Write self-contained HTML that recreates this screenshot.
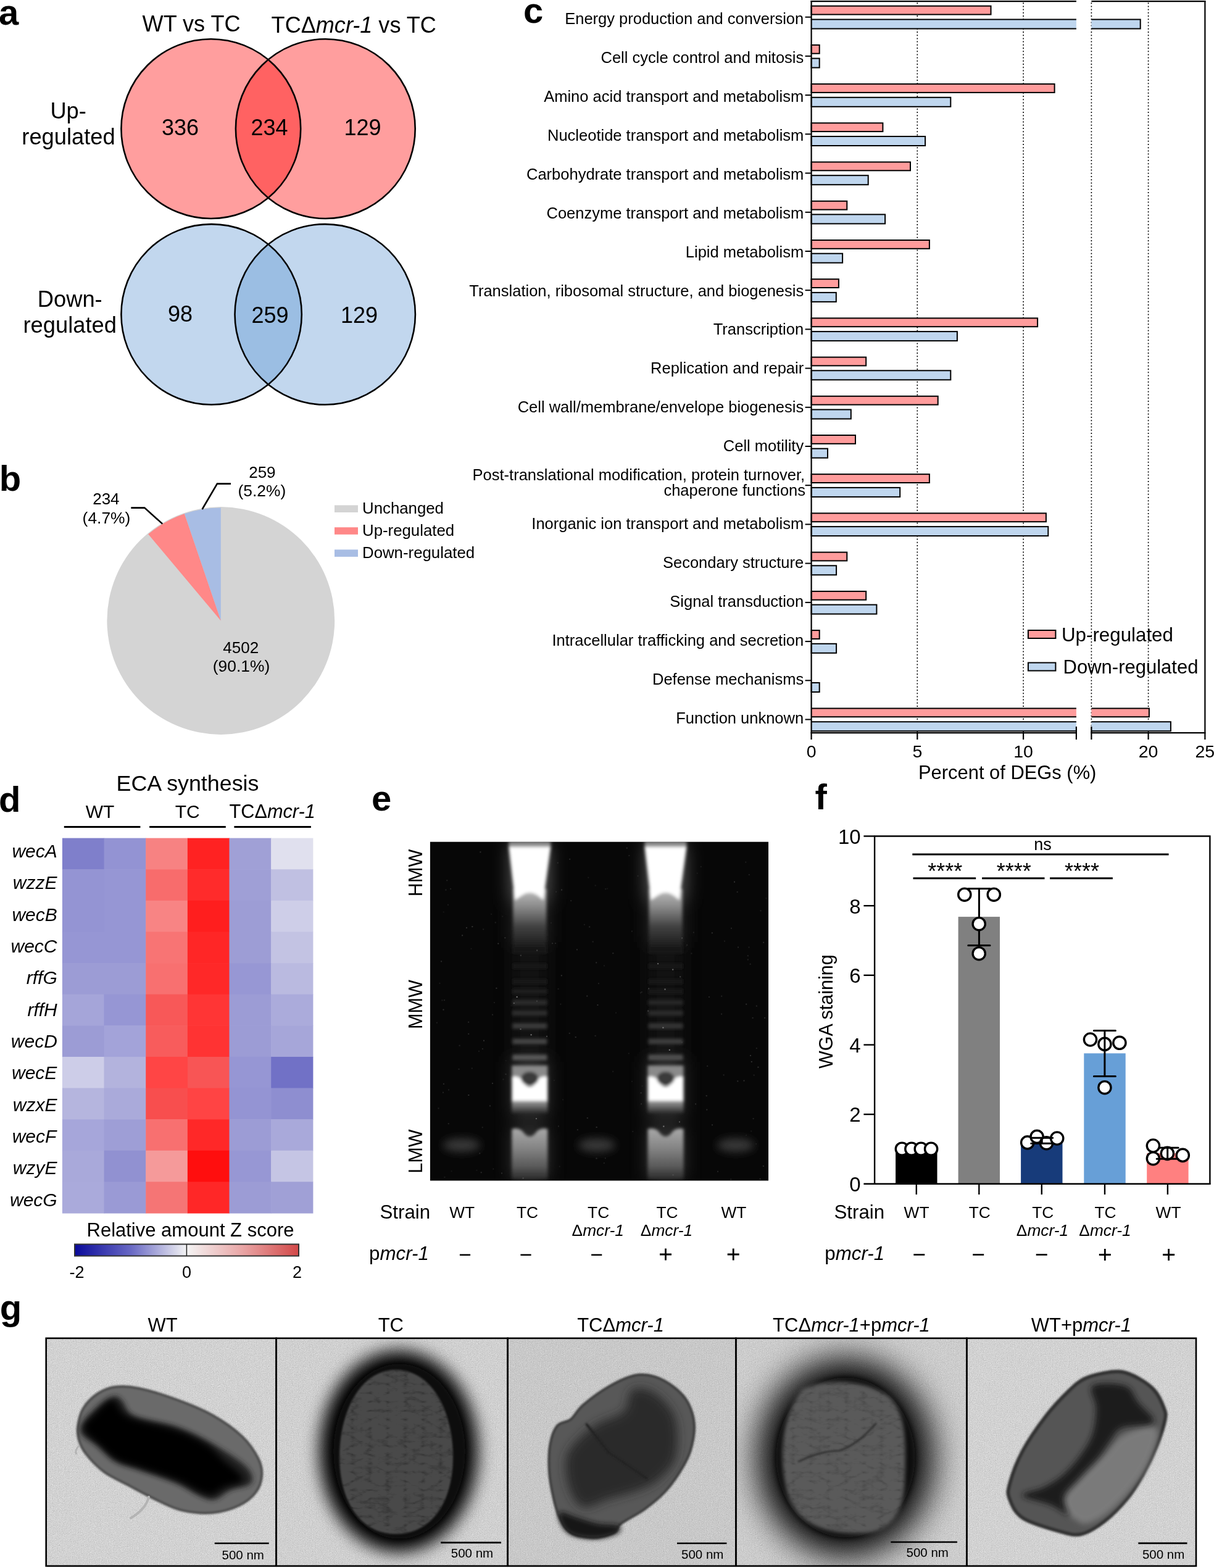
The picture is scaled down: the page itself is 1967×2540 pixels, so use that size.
<!DOCTYPE html>
<html><head><meta charset="utf-8"><title>Figure</title>
<style>html,body{margin:0;padding:0;background:#fff;width:1967px;height:2540px;overflow:hidden}
svg{display:block}
text{font-family:"Liberation Sans",Arial,Helvetica,sans-serif;fill:#000}
</style></head><body>
<svg width="1967" height="2540" viewBox="0 0 1967 2540">
<rect width="1967" height="2540" fill="#fff"/>
<text x="-2.0" y="40.0" font-size="58.00"><tspan font-weight="bold">a</tspan></text>
<text x="230.6" y="51.0" font-size="36.10">WT vs TC</text>
<text x="439.6" y="53.3" font-size="36.10"><tspan>TCΔ</tspan><tspan font-style="italic">mcr-1</tspan><tspan> vs TC</tspan></text>
<circle cx="341.8" cy="208.6" r="145.4" fill="rgba(255,0,0,0.38)"/>
<circle cx="527.3" cy="208.6" r="145.4" fill="rgba(255,0,0,0.38)"/>
<circle cx="341.8" cy="208.6" r="145.4" fill="none" stroke="#000" stroke-width="2.6"/>
<circle cx="527.3" cy="208.6" r="145.4" fill="none" stroke="#000" stroke-width="2.6"/>
<circle cx="342.6" cy="509.3" r="146.2" fill="rgba(90,147,209,0.37)"/>
<circle cx="526.7" cy="509.3" r="146.2" fill="rgba(90,147,209,0.37)"/>
<circle cx="342.6" cy="509.3" r="146.2" fill="none" stroke="#000" stroke-width="2.6"/>
<circle cx="526.7" cy="509.3" r="146.2" fill="none" stroke="#000" stroke-width="2.6"/>
<text x="262.0" y="218.8" font-size="36.00">336</text>
<text x="406.5" y="218.8" font-size="36.00">234</text>
<text x="557.5" y="218.8" font-size="36.00">129</text>
<text x="272.0" y="521.0" font-size="36.00">98</text>
<text x="407.4" y="523.2" font-size="36.00">259</text>
<text x="551.9" y="523.2" font-size="36.00">129</text>
<text x="81.4" y="191.6" font-size="36.30">Up-</text>
<text x="35.3" y="234.0" font-size="36.30">regulated</text>
<text x="60.8" y="496.8" font-size="36.30">Down-</text>
<text x="37.5" y="539.3" font-size="36.30">regulated</text>
<text x="-1.2" y="795.0" font-size="58.00"><tspan font-weight="bold">b</tspan></text>
<circle cx="357.8" cy="1005.5" r="184.4" fill="#D4D4D4"/>
<path d="M357.80 1005.50 L357.80 822.50 A183.00 183.00 0 0 0 298.83 832.26 Z" fill="#A8BDE4"/>
<path d="M357.80 1005.50 L298.83 832.26 A183.00 183.00 0 0 0 240.17 865.31 Z" fill="#FF8888"/>
<polyline points="212.3,822.6 234.2,822.6 263.2,848.6" fill="none" stroke="#000" stroke-width="2.6"/>
<polyline points="374,783.6 351.9,783.6 327.6,825" fill="none" stroke="#000" stroke-width="2.6"/>
<text x="150.2" y="816.9" font-size="26.00">234</text>
<text x="133.6" y="847.7" font-size="26.40">(4.7%)</text>
<text x="403.2" y="774.0" font-size="26.00">259</text>
<text x="385.5" y="804.0" font-size="26.40">(5.2%)</text>
<text x="361.3" y="1057.5" font-size="26.00">4502</text>
<text x="344.8" y="1088.0" font-size="26.40">(90.1%)</text>
<rect x="542" y="818.4" width="38" height="11.6" fill="#D4D4D4"/>
<rect x="542" y="854.2" width="38" height="11.6" fill="#FF8888"/>
<rect x="542" y="890.3" width="38" height="11.6" fill="#A8BDE4"/>
<text x="587.0" y="832.0" font-size="25.80">Unchanged</text>
<text x="587.0" y="867.8" font-size="25.80">Up-regulated</text>
<text x="587.0" y="903.6" font-size="25.80">Down-regulated</text>
<text x="848.0" y="37.0" font-size="58.00"><tspan font-weight="bold">c</tspan></text>
<line x1="1486.3" y1="4.2" x2="1486.3" y2="1186.2" stroke="#000" stroke-width="1.6" stroke-dasharray="2 3.2"/>
<line x1="1658.1" y1="4.2" x2="1658.1" y2="1186.2" stroke="#000" stroke-width="1.6" stroke-dasharray="2 3.2"/>
<line x1="1768.4" y1="4.2" x2="1768.4" y2="1186.2" stroke="#000" stroke-width="1.6" stroke-dasharray="2 3.2"/>
<line x1="1860.6" y1="4.2" x2="1860.6" y2="1186.2" stroke="#000" stroke-width="1.6" stroke-dasharray="2 3.2"/>
<rect x="1314.6" y="9.7" width="290.9" height="13.8" fill="#FF9C9C" stroke="#000" stroke-width="2"/>
<rect x="1314.6" y="31.4" width="429.3" height="15.0" fill="#BFD6EE"/><rect x="1768.4" y="31.4" width="79.3" height="15.0" fill="#BFD6EE"/><path d="M1314.6 31.4 H1743.9 M1314.6 46.4 H1743.9 M1768.4 31.4 H1847.7 V46.4 H1768.4" fill="none" stroke="#000" stroke-width="2"/>
<line x1="1304.6" y1="27.7" x2="1314.6" y2="27.7" stroke="#000" stroke-width="2"/>
<text x="915.2" y="38.9" font-size="25.50">Energy production and conversion</text>
<rect x="1314.6" y="72.9" width="13.1" height="13.8" fill="#FF9C9C" stroke="#000" stroke-width="2"/>
<rect x="1314.6" y="94.6" width="13.1" height="15.0" fill="#BFD6EE" stroke="#000" stroke-width="2"/>
<line x1="1304.6" y1="90.9" x2="1314.6" y2="90.9" stroke="#000" stroke-width="2"/>
<text x="973.5" y="101.8" font-size="25.50">Cell cycle control and mitosis</text>
<rect x="1314.6" y="136.1" width="394.0" height="13.8" fill="#FF9C9C" stroke="#000" stroke-width="2"/>
<rect x="1314.6" y="157.8" width="225.7" height="15.0" fill="#BFD6EE" stroke="#000" stroke-width="2"/>
<line x1="1304.6" y1="154.1" x2="1314.6" y2="154.1" stroke="#000" stroke-width="2"/>
<text x="881.2" y="164.8" font-size="25.50">Amino acid transport and metabolism</text>
<rect x="1314.6" y="199.3" width="115.8" height="13.8" fill="#FF9C9C" stroke="#000" stroke-width="2"/>
<rect x="1314.6" y="221.0" width="184.5" height="15.0" fill="#BFD6EE" stroke="#000" stroke-width="2"/>
<line x1="1304.6" y1="217.3" x2="1314.6" y2="217.3" stroke="#000" stroke-width="2"/>
<text x="887.0" y="227.7" font-size="25.50">Nucleotide transport and metabolism</text>
<rect x="1314.6" y="262.5" width="160.4" height="13.8" fill="#FF9C9C" stroke="#000" stroke-width="2"/>
<rect x="1314.6" y="284.2" width="92.1" height="15.0" fill="#BFD6EE" stroke="#000" stroke-width="2"/>
<line x1="1304.6" y1="280.5" x2="1314.6" y2="280.5" stroke="#000" stroke-width="2"/>
<text x="853.0" y="290.7" font-size="25.50">Carbohydrate transport and metabolism</text>
<rect x="1314.6" y="325.8" width="57.7" height="13.8" fill="#FF9C9C" stroke="#000" stroke-width="2"/>
<rect x="1314.6" y="347.4" width="119.5" height="15.0" fill="#BFD6EE" stroke="#000" stroke-width="2"/>
<line x1="1304.6" y1="343.8" x2="1314.6" y2="343.8" stroke="#000" stroke-width="2"/>
<text x="885.5" y="353.6" font-size="25.50">Coenzyme transport and metabolism</text>
<rect x="1314.6" y="389.0" width="191.3" height="13.8" fill="#FF9C9C" stroke="#000" stroke-width="2"/>
<rect x="1314.6" y="410.7" width="50.5" height="15.0" fill="#BFD6EE" stroke="#000" stroke-width="2"/>
<line x1="1304.6" y1="407.0" x2="1314.6" y2="407.0" stroke="#000" stroke-width="2"/>
<text x="1110.8" y="416.5" font-size="25.50">Lipid metabolism</text>
<rect x="1314.6" y="452.2" width="44.3" height="13.8" fill="#FF9C9C" stroke="#000" stroke-width="2"/>
<rect x="1314.6" y="473.9" width="40.2" height="15.0" fill="#BFD6EE" stroke="#000" stroke-width="2"/>
<line x1="1304.6" y1="470.2" x2="1314.6" y2="470.2" stroke="#000" stroke-width="2"/>
<text x="760.3" y="479.5" font-size="25.50">Translation, ribosomal structure, and biogenesis</text>
<rect x="1314.6" y="515.4" width="366.5" height="13.8" fill="#FF9C9C" stroke="#000" stroke-width="2"/>
<rect x="1314.6" y="537.1" width="236.3" height="15.0" fill="#BFD6EE" stroke="#000" stroke-width="2"/>
<line x1="1304.6" y1="533.4" x2="1314.6" y2="533.4" stroke="#000" stroke-width="2"/>
<text x="1155.7" y="542.4" font-size="25.50">Transcription</text>
<rect x="1314.6" y="578.6" width="88.6" height="13.8" fill="#FF9C9C" stroke="#000" stroke-width="2"/>
<rect x="1314.6" y="600.3" width="225.7" height="15.0" fill="#BFD6EE" stroke="#000" stroke-width="2"/>
<line x1="1304.6" y1="596.6" x2="1314.6" y2="596.6" stroke="#000" stroke-width="2"/>
<text x="1054.1" y="605.4" font-size="25.50">Replication and repair</text>
<rect x="1314.6" y="641.8" width="205.1" height="13.8" fill="#FF9C9C" stroke="#000" stroke-width="2"/>
<rect x="1314.6" y="663.5" width="64.2" height="15.0" fill="#BFD6EE" stroke="#000" stroke-width="2"/>
<line x1="1304.6" y1="659.8" x2="1314.6" y2="659.8" stroke="#000" stroke-width="2"/>
<text x="838.7" y="668.3" font-size="25.50">Cell wall/membrane/envelope biogenesis</text>
<rect x="1314.6" y="705.0" width="71.4" height="13.8" fill="#FF9C9C" stroke="#000" stroke-width="2"/>
<rect x="1314.6" y="726.7" width="26.4" height="15.0" fill="#BFD6EE" stroke="#000" stroke-width="2"/>
<line x1="1304.6" y1="723.0" x2="1314.6" y2="723.0" stroke="#000" stroke-width="2"/>
<text x="1171.8" y="731.2" font-size="25.50">Cell motility</text>
<rect x="1314.6" y="768.2" width="191.3" height="13.8" fill="#FF9C9C" stroke="#000" stroke-width="2"/>
<rect x="1314.6" y="789.9" width="143.6" height="15.0" fill="#BFD6EE" stroke="#000" stroke-width="2"/>
<line x1="1304.6" y1="786.2" x2="1314.6" y2="786.2" stroke="#000" stroke-width="2"/>
<text x="765.6" y="777.7" font-size="25.50">Post-translational modification, protein turnover,</text>
<text x="1075.4" y="803.4" font-size="25.50">chaperone functions</text>
<rect x="1314.6" y="831.4" width="380.3" height="13.8" fill="#FF9C9C" stroke="#000" stroke-width="2"/>
<rect x="1314.6" y="853.1" width="383.7" height="15.0" fill="#BFD6EE" stroke="#000" stroke-width="2"/>
<line x1="1304.6" y1="849.4" x2="1314.6" y2="849.4" stroke="#000" stroke-width="2"/>
<text x="861.3" y="857.1" font-size="25.50">Inorganic ion transport and metabolism</text>
<rect x="1314.6" y="894.6" width="57.7" height="13.8" fill="#FF9C9C" stroke="#000" stroke-width="2"/>
<rect x="1314.6" y="916.3" width="40.5" height="15.0" fill="#BFD6EE" stroke="#000" stroke-width="2"/>
<line x1="1304.6" y1="912.6" x2="1314.6" y2="912.6" stroke="#000" stroke-width="2"/>
<text x="1074.0" y="920.1" font-size="25.50">Secondary structure</text>
<rect x="1314.6" y="957.9" width="88.6" height="13.8" fill="#FF9C9C" stroke="#000" stroke-width="2"/>
<rect x="1314.6" y="979.6" width="105.8" height="15.0" fill="#BFD6EE" stroke="#000" stroke-width="2"/>
<line x1="1304.6" y1="975.9" x2="1314.6" y2="975.9" stroke="#000" stroke-width="2"/>
<text x="1085.3" y="983.0" font-size="25.50">Signal transduction</text>
<rect x="1314.6" y="1021.1" width="13.1" height="13.8" fill="#FF9C9C" stroke="#000" stroke-width="2"/>
<rect x="1314.6" y="1042.8" width="40.5" height="15.0" fill="#BFD6EE" stroke="#000" stroke-width="2"/>
<line x1="1304.6" y1="1039.1" x2="1314.6" y2="1039.1" stroke="#000" stroke-width="2"/>
<text x="894.5" y="1045.9" font-size="25.50">Intracellular trafficking and secretion</text>

<rect x="1314.6" y="1106.0" width="13.1" height="15.0" fill="#BFD6EE" stroke="#000" stroke-width="2"/>
<line x1="1304.6" y1="1102.3" x2="1314.6" y2="1102.3" stroke="#000" stroke-width="2"/>
<text x="1057.0" y="1108.9" font-size="25.50">Defense mechanisms</text>
<rect x="1314.6" y="1147.5" width="429.3" height="13.8" fill="#FF9C9C"/><rect x="1768.4" y="1147.5" width="93.5" height="13.8" fill="#FF9C9C"/><path d="M1314.6 1147.5 H1743.9 M1314.6 1161.3 H1743.9 M1768.4 1147.5 H1861.9 V1161.3 H1768.4" fill="none" stroke="#000" stroke-width="2"/>
<rect x="1314.6" y="1169.2" width="429.3" height="15.0" fill="#BFD6EE"/><rect x="1768.4" y="1169.2" width="128.5" height="15.0" fill="#BFD6EE"/><path d="M1314.6 1169.2 H1743.9 M1314.6 1184.2 H1743.9 M1768.4 1169.2 H1896.9 V1184.2 H1768.4" fill="none" stroke="#000" stroke-width="2"/>
<line x1="1304.6" y1="1165.5" x2="1314.6" y2="1165.5" stroke="#000" stroke-width="2"/>
<text x="1095.2" y="1171.8" font-size="25.50">Function unknown</text>
<line x1="1314.6" y1="1.0" x2="1314.6" y2="1198" stroke="#000" stroke-width="2.2"/>
<line x1="1313.6" y1="2.2" x2="1743.9" y2="2.2" stroke="#000" stroke-width="2.2"/>
<line x1="1768.4" y1="2.2" x2="1953.4" y2="2.2" stroke="#000" stroke-width="2.2"/>
<line x1="1952.4" y1="1.2" x2="1952.4" y2="1198" stroke="#000" stroke-width="2.2"/>
<line x1="1313.6" y1="1187.2" x2="1744.9" y2="1187.2" stroke="#000" stroke-width="2.2"/>
<line x1="1767.4" y1="1187.2" x2="1953.4" y2="1187.2" stroke="#000" stroke-width="2.2"/>
<line x1="1486.3" y1="1187.2" x2="1486.3" y2="1198" stroke="#000" stroke-width="2.2"/>
<line x1="1658.1" y1="1187.2" x2="1658.1" y2="1198" stroke="#000" stroke-width="2.2"/>
<line x1="1860.6" y1="1187.2" x2="1860.6" y2="1198" stroke="#000" stroke-width="2.2"/>
<line x1="1743.9" y1="1177" x2="1743.9" y2="1198" stroke="#000" stroke-width="2.2"/>
<line x1="1768.4" y1="1177" x2="1768.4" y2="1198" stroke="#000" stroke-width="2.2"/>
<text x="1306.7" y="1226.5" font-size="28.50">0</text>
<text x="1478.4" y="1226.5" font-size="28.50">5</text>
<text x="1642.2" y="1226.5" font-size="28.50">10</text>
<text x="1844.7" y="1226.5" font-size="28.50">20</text>
<text x="1936.5" y="1226.5" font-size="28.50">25</text>
<text x="1488.0" y="1262.3" font-size="30.90">Percent of DEGs (%)</text>
<rect x="1665.9" y="1021" width="44.5" height="13" fill="#FF9C9C" stroke="#000" stroke-width="2"/>
<rect x="1665.9" y="1073.5" width="44.5" height="13" fill="#BFD6EE" stroke="#000" stroke-width="2"/>
<text x="1720.0" y="1038.7" font-size="31.30">Up-regulated</text>
<text x="1722.6" y="1091.0" font-size="31.00">Down-regulated</text>
<text x="-2.0" y="1315.3" font-size="58.00"><tspan font-weight="bold">d</tspan></text>
<text x="188.6" y="1280.9" font-size="35.80">ECA synthesis</text>
<text x="138.7" y="1324.8" font-size="30.00">WT</text>
<text x="283.7" y="1324.8" font-size="30.00">TC</text>
<text x="371.5" y="1324.8" font-size="30.70"><tspan>TCΔ</tspan><tspan font-style="italic">mcr-1</tspan></text>
<line x1="103.8" y1="1339.5" x2="227.4" y2="1339.5" stroke="#000" stroke-width="3"/>
<line x1="242.1" y1="1339.5" x2="365.8" y2="1339.5" stroke="#000" stroke-width="3"/>
<line x1="379.4" y1="1339.5" x2="503.9" y2="1339.5" stroke="#000" stroke-width="3"/>
<rect x="100.90" y="1357.60" width="68.25" height="51.22" fill="#7F7FCB"/>
<rect x="168.55" y="1357.60" width="68.25" height="51.22" fill="#9393D3"/>
<rect x="236.20" y="1357.60" width="68.25" height="51.22" fill="#F78282"/>
<rect x="303.85" y="1357.60" width="68.25" height="51.22" fill="#FF2222"/>
<rect x="371.50" y="1357.60" width="68.25" height="51.22" fill="#A0A0D6"/>
<rect x="439.15" y="1357.60" width="68.25" height="51.22" fill="#E0E0EE"/>
<text x="19.4" y="1388.8" font-size="30.00"><tspan font-style="italic">wecA</tspan></text>
<rect x="100.90" y="1408.22" width="68.25" height="51.22" fill="#9494D3"/>
<rect x="168.55" y="1408.22" width="68.25" height="51.22" fill="#9696D4"/>
<rect x="236.20" y="1408.22" width="68.25" height="51.22" fill="#F86C6C"/>
<rect x="303.85" y="1408.22" width="68.25" height="51.22" fill="#FF2B2B"/>
<rect x="371.50" y="1408.22" width="68.25" height="51.22" fill="#9F9FD6"/>
<rect x="439.15" y="1408.22" width="68.25" height="51.22" fill="#C0C0E2"/>
<text x="20.8" y="1440.2" font-size="30.00"><tspan font-style="italic">wzzE</tspan></text>
<rect x="100.90" y="1458.83" width="68.25" height="51.22" fill="#9494D3"/>
<rect x="168.55" y="1458.83" width="68.25" height="51.22" fill="#9696D4"/>
<rect x="236.20" y="1458.83" width="68.25" height="51.22" fill="#F88484"/>
<rect x="303.85" y="1458.83" width="68.25" height="51.22" fill="#FF1E1E"/>
<rect x="371.50" y="1458.83" width="68.25" height="51.22" fill="#9D9DD5"/>
<rect x="439.15" y="1458.83" width="68.25" height="51.22" fill="#CECEE8"/>
<text x="19.4" y="1491.5" font-size="30.00"><tspan font-style="italic">wecB</tspan></text>
<rect x="100.90" y="1509.45" width="68.25" height="51.22" fill="#9696D4"/>
<rect x="168.55" y="1509.45" width="68.25" height="51.22" fill="#9696D4"/>
<rect x="236.20" y="1509.45" width="68.25" height="51.22" fill="#F87474"/>
<rect x="303.85" y="1509.45" width="68.25" height="51.22" fill="#FF2626"/>
<rect x="371.50" y="1509.45" width="68.25" height="51.22" fill="#9D9DD5"/>
<rect x="439.15" y="1509.45" width="68.25" height="51.22" fill="#C3C3E3"/>
<text x="17.5" y="1542.9" font-size="30.00"><tspan font-style="italic">wecC</tspan></text>
<rect x="100.90" y="1560.07" width="68.25" height="51.22" fill="#9C9CD5"/>
<rect x="168.55" y="1560.07" width="68.25" height="51.22" fill="#9C9CD5"/>
<rect x="236.20" y="1560.07" width="68.25" height="51.22" fill="#F87070"/>
<rect x="303.85" y="1560.07" width="68.25" height="51.22" fill="#FF2828"/>
<rect x="371.50" y="1560.07" width="68.25" height="51.22" fill="#9797D4"/>
<rect x="439.15" y="1560.07" width="68.25" height="51.22" fill="#BABAE0"/>
<text x="42.8" y="1594.2" font-size="30.00"><tspan font-style="italic">rffG</tspan></text>
<rect x="100.90" y="1610.68" width="68.25" height="51.22" fill="#A5A5D9"/>
<rect x="168.55" y="1610.68" width="68.25" height="51.22" fill="#9696D4"/>
<rect x="236.20" y="1610.68" width="68.25" height="51.22" fill="#F85858"/>
<rect x="303.85" y="1610.68" width="68.25" height="51.22" fill="#FF3535"/>
<rect x="371.50" y="1610.68" width="68.25" height="51.22" fill="#9C9CD5"/>
<rect x="439.15" y="1610.68" width="68.25" height="51.22" fill="#ABABDB"/>
<text x="44.4" y="1645.6" font-size="30.00"><tspan font-style="italic">rffH</tspan></text>
<rect x="100.90" y="1661.30" width="68.25" height="51.22" fill="#9C9CD5"/>
<rect x="168.55" y="1661.30" width="68.25" height="51.22" fill="#A3A3D9"/>
<rect x="236.20" y="1661.30" width="68.25" height="51.22" fill="#F85C5C"/>
<rect x="303.85" y="1661.30" width="68.25" height="51.22" fill="#FF3333"/>
<rect x="371.50" y="1661.30" width="68.25" height="51.22" fill="#9C9CD5"/>
<rect x="439.15" y="1661.30" width="68.25" height="51.22" fill="#A6A6D9"/>
<text x="17.8" y="1697.0" font-size="30.00"><tspan font-style="italic">wecD</tspan></text>
<rect x="100.90" y="1711.92" width="68.25" height="51.22" fill="#CDCDE8"/>
<rect x="168.55" y="1711.92" width="68.25" height="51.22" fill="#B3B3DD"/>
<rect x="236.20" y="1711.92" width="68.25" height="51.22" fill="#FF4545"/>
<rect x="303.85" y="1711.92" width="68.25" height="51.22" fill="#F85555"/>
<rect x="371.50" y="1711.92" width="68.25" height="51.22" fill="#9696D4"/>
<rect x="439.15" y="1711.92" width="68.25" height="51.22" fill="#7171C6"/>
<text x="19.0" y="1748.3" font-size="30.00"><tspan font-style="italic">wecE</tspan></text>
<rect x="100.90" y="1762.53" width="68.25" height="51.22" fill="#B5B5DE"/>
<rect x="168.55" y="1762.53" width="68.25" height="51.22" fill="#AAAADA"/>
<rect x="236.20" y="1762.53" width="68.25" height="51.22" fill="#F84E4E"/>
<rect x="303.85" y="1762.53" width="68.25" height="51.22" fill="#FF4444"/>
<rect x="371.50" y="1762.53" width="68.25" height="51.22" fill="#9494D3"/>
<rect x="439.15" y="1762.53" width="68.25" height="51.22" fill="#8E8ED0"/>
<text x="20.8" y="1799.7" font-size="30.00"><tspan font-style="italic">wzxE</tspan></text>
<rect x="100.90" y="1813.15" width="68.25" height="51.22" fill="#A6A6DA"/>
<rect x="168.55" y="1813.15" width="68.25" height="51.22" fill="#9E9ED6"/>
<rect x="236.20" y="1813.15" width="68.25" height="51.22" fill="#F87070"/>
<rect x="303.85" y="1813.15" width="68.25" height="51.22" fill="#FF2828"/>
<rect x="371.50" y="1813.15" width="68.25" height="51.22" fill="#9C9CD5"/>
<rect x="439.15" y="1813.15" width="68.25" height="51.22" fill="#A9A9DA"/>
<text x="19.7" y="1851.0" font-size="30.00"><tspan font-style="italic">wecF</tspan></text>
<rect x="100.90" y="1863.77" width="68.25" height="51.22" fill="#A9A9DA"/>
<rect x="168.55" y="1863.77" width="68.25" height="51.22" fill="#9191D1"/>
<rect x="236.20" y="1863.77" width="68.25" height="51.22" fill="#F59A9A"/>
<rect x="303.85" y="1863.77" width="68.25" height="51.22" fill="#FF0E0E"/>
<rect x="371.50" y="1863.77" width="68.25" height="51.22" fill="#9797D4"/>
<rect x="439.15" y="1863.77" width="68.25" height="51.22" fill="#C5C5E4"/>
<text x="20.8" y="1902.4" font-size="30.00"><tspan font-style="italic">wzyE</tspan></text>
<rect x="100.90" y="1914.38" width="68.25" height="51.22" fill="#AAAADB"/>
<rect x="168.55" y="1914.38" width="68.25" height="51.22" fill="#9A9AD5"/>
<rect x="236.20" y="1914.38" width="68.25" height="51.22" fill="#F57575"/>
<rect x="303.85" y="1914.38" width="68.25" height="51.22" fill="#FF2727"/>
<rect x="371.50" y="1914.38" width="68.25" height="51.22" fill="#9C9CD5"/>
<rect x="439.15" y="1914.38" width="68.25" height="51.22" fill="#A0A0D6"/>
<text x="16.0" y="1953.8" font-size="30.00"><tspan font-style="italic">wecG</tspan></text>
<text x="140.5" y="2002.5" font-size="31.00">Relative amount Z score</text>
<defs><linearGradient id="cb" x1="0" x2="1" y1="0" y2="0"><stop offset="0" stop-color="#0A0A9A"/><stop offset="0.25" stop-color="#6868C4"/><stop offset="0.5" stop-color="#F4F4F4"/><stop offset="0.75" stop-color="#E9A5A5"/><stop offset="1" stop-color="#D24848"/></linearGradient></defs>
<rect x="121" y="2015.5" width="363" height="19" fill="url(#cb)" stroke="#333" stroke-width="2"/>
<line x1="302.4" y1="2015.5" x2="302.4" y2="2034.5" stroke="#222" stroke-width="1.5"/>
<text x="112.5" y="2069.5" font-size="27.00">-2</text>
<text x="294.9" y="2069.5" font-size="27.00">0</text>
<text x="473.9" y="2069.5" font-size="27.00">2</text>
<text x="602.0" y="1313.3" font-size="58.00"><tspan font-weight="bold">e</tspan></text>
<defs><clipPath id="gelclip"><rect x="696.7" y="1363.4" width="548.5" height="549.3"/></clipPath><filter id="gb2" x="-20%" y="-20%" width="140%" height="140%"><feGaussianBlur stdDeviation="2.5"/></filter><filter id="gb4" x="-30%" y="-30%" width="160%" height="160%"><feGaussianBlur stdDeviation="4"/></filter><filter id="gb8" x="-50%" y="-50%" width="200%" height="200%"><feGaussianBlur stdDeviation="8"/></filter><linearGradient id="smear" x1="0" x2="0" y1="0" y2="1"><stop offset="0" stop-color="#d0d0d0"/><stop offset="0.35" stop-color="#8a8a8a"/><stop offset="1" stop-color="#181818"/></linearGradient><linearGradient id="lmw" x1="0" x2="0" y1="0" y2="1"><stop offset="0" stop-color="#a8a8a8"/><stop offset="0.35" stop-color="#888"/><stop offset="0.75" stop-color="#5a5a5a"/><stop offset="1" stop-color="#2a2a2a"/></linearGradient><linearGradient id="bandfade" x1="0" x2="0" y1="0" y2="1"><stop offset="0" stop-color="#ffffff"/><stop offset="0.55" stop-color="#f0f0f0"/><stop offset="1" stop-color="#444"/></linearGradient></defs>
<defs><filter id="gelA" filterUnits="userSpaceOnUse" x="680" y="1340" width="590" height="600"><feGaussianBlur stdDeviation="2.4"/></filter><filter id="gelB" filterUnits="userSpaceOnUse" x="680" y="1340" width="590" height="600"><feGaussianBlur stdDeviation="7"/></filter><filter id="gelC" filterUnits="userSpaceOnUse" x="680" y="1340" width="590" height="600"><feGaussianBlur stdDeviation="14"/></filter></defs>
<defs><linearGradient id="tongue" x1="0" x2="0" y1="0" y2="1"><stop offset="0" stop-color="#c0c0c0"/><stop offset="0.3" stop-color="#8a8a8a"/><stop offset="0.65" stop-color="#404040"/><stop offset="1" stop-color="#1a1a1a"/></linearGradient><linearGradient id="fadeB" x1="0" x2="0" y1="0" y2="1"><stop offset="0" stop-color="#a0a0a0"/><stop offset="1" stop-color="#2a2a2a"/></linearGradient></defs>
<g clip-path="url(#gelclip)"><rect x="696.7" y="1363.4" width="548.5" height="549.3" fill="#070707"/><g filter="url(#gelC)" opacity="0.55"><rect x="826.3" y="1366" width="64" height="90" fill="#9a9a9a"/><rect x="830.3" y="1456" width="56" height="70" fill="#4a4a4a"/><rect x="829.3" y="1720" width="58" height="90" fill="#5a5a5a"/><rect x="829.3" y="1826" width="58" height="84" fill="#5a5a5a"/><rect x="830.3" y="1526" width="56" height="194" fill="#1c1c1c"/><rect x="1046.5" y="1366" width="64" height="90" fill="#9a9a9a"/><rect x="1050.5" y="1456" width="56" height="70" fill="#4a4a4a"/><rect x="1049.5" y="1720" width="58" height="90" fill="#5a5a5a"/><rect x="1049.5" y="1826" width="58" height="84" fill="#5a5a5a"/><rect x="1050.5" y="1526" width="56" height="194" fill="#1c1c1c"/></g><g filter="url(#gelB)"><ellipse cx="748.0" cy="1855" rx="30" ry="11" fill="#383838"/><ellipse cx="967.0" cy="1855" rx="30" ry="11" fill="#383838"/><ellipse cx="1192.0" cy="1855" rx="30" ry="11" fill="#383838"/></g><g filter="url(#gelA)"><rect x="824.3" y="1363" width="68" height="10" fill="#8c8c8c"/><path d="M831.3 1440 L885.3 1440 L885.3 1535 L831.3 1535 Z" fill="url(#tongue)"/><path d="M824.3 1372 L892.3 1372 L880.3 1458 L873.3 1452 Q858.3 1440 843.3 1452 L834.3 1458 Z" fill="#ffffff"/><rect x="830.3" y="1535.5" width="56" height="9" fill="rgb(20,20,20)"/><rect x="830.3" y="1560.5" width="56" height="9" fill="rgb(20,20,20)"/><rect x="830.3" y="1585.5" width="56" height="9" fill="rgb(22,22,22)"/><rect x="830.3" y="1601.5" width="56" height="9" fill="rgb(28,28,28)"/><rect x="830.3" y="1619.5" width="56" height="9" fill="rgb(42,42,42)"/><rect x="830.3" y="1636.5" width="56" height="9" fill="rgb(46,46,46)"/><rect x="830.3" y="1657.5" width="56" height="9" fill="rgb(58,58,58)"/><rect x="830.3" y="1682.5" width="56" height="9" fill="rgb(68,68,68)"/><rect x="830.3" y="1708.5" width="56" height="9" fill="rgb(88,88,88)"/><rect x="829.3" y="1726" width="58" height="24" fill="#8a8a8a"/><path d="M829.3 1745 Q837.3 1742 844.3 1748 Q858.3 1772 872.3 1748 Q879.3 1742 887.3 1745 L887.3 1784 L829.3 1784 Z" fill="#ffffff"/><ellipse cx="858.3" cy="1747" rx="14" ry="11" fill="#3a3a3a"/><rect x="829.3" y="1783" width="58" height="20" fill="url(#fadeB)"/><path d="M829.3 1829 Q838.3 1826 846.3 1832 Q858.3 1850 870.3 1832 Q878.3 1826 887.3 1829 L887.3 1910 L829.3 1910 Z" fill="url(#lmw)"/><rect x="1044.5" y="1363" width="68" height="10" fill="#8c8c8c"/><path d="M1051.5 1440 L1105.5 1440 L1105.5 1535 L1051.5 1535 Z" fill="url(#tongue)"/><path d="M1044.5 1372 L1112.5 1372 L1100.5 1458 L1093.5 1452 Q1078.5 1440 1063.5 1452 L1054.5 1458 Z" fill="#ffffff"/><rect x="1050.5" y="1535.5" width="56" height="9" fill="rgb(18,18,18)"/><rect x="1050.5" y="1560.5" width="56" height="9" fill="rgb(18,18,18)"/><rect x="1050.5" y="1585.5" width="56" height="9" fill="rgb(20,20,20)"/><rect x="1050.5" y="1601.5" width="56" height="9" fill="rgb(25,25,25)"/><rect x="1050.5" y="1619.5" width="56" height="9" fill="rgb(38,38,38)"/><rect x="1050.5" y="1636.5" width="56" height="9" fill="rgb(42,42,42)"/><rect x="1050.5" y="1657.5" width="56" height="9" fill="rgb(53,53,53)"/><rect x="1050.5" y="1682.5" width="56" height="9" fill="rgb(62,62,62)"/><rect x="1050.5" y="1708.5" width="56" height="9" fill="rgb(80,80,80)"/><rect x="1049.5" y="1726" width="58" height="24" fill="#8a8a8a"/><path d="M1049.5 1745 Q1057.5 1742 1064.5 1748 Q1078.5 1772 1092.5 1748 Q1099.5 1742 1107.5 1745 L1107.5 1784 L1049.5 1784 Z" fill="#ffffff"/><ellipse cx="1078.5" cy="1747" rx="14" ry="11" fill="#3a3a3a"/><rect x="1049.5" y="1783" width="58" height="20" fill="url(#fadeB)"/><path d="M1049.5 1829 Q1058.5 1826 1066.5 1832 Q1078.5 1850 1090.5 1832 Q1098.5 1826 1107.5 1829 L1107.5 1910 L1049.5 1910 Z" fill="url(#lmw)"/></g><g style="mix-blend-mode:lighten"><rect x="1037.6" y="1769.4" width="2" height="2" fill="rgb(47,47,47)"/><rect x="1074.3" y="1823.6" width="2" height="2" fill="rgb(127,127,127)"/><rect x="715.4" y="1619.4" width="2" height="2" fill="rgb(29,29,29)"/><rect x="1051.8" y="1855.9" width="2" height="2" fill="rgb(107,107,107)"/><rect x="954.2" y="1500.4" width="2" height="2" fill="rgb(39,39,39)"/><rect x="755.0" y="1501.9" width="2" height="2" fill="rgb(45,45,45)"/><rect x="817.3" y="1518.2" width="2" height="2" fill="rgb(46,46,46)"/><rect x="911.0" y="1780.4" width="2" height="2" fill="rgb(24,24,24)"/><rect x="775.0" y="1701.9" width="2" height="2" fill="rgb(26,26,26)"/><rect x="771.4" y="1894.7" width="2" height="2" fill="rgb(22,22,22)"/><rect x="813.3" y="1483.5" width="2" height="2" fill="rgb(27,27,27)"/><rect x="1173.0" y="1523.6" width="2" height="2" fill="rgb(28,28,28)"/><rect x="992.2" y="1734.7" width="2" height="2" fill="rgb(28,28,28)"/><rect x="798.3" y="1892.6" width="2" height="2" fill="rgb(28,28,28)"/><rect x="1224.1" y="1852.0" width="2" height="2" fill="rgb(31,31,31)"/><rect x="711.4" y="1591.8" width="2" height="2" fill="rgb(26,26,26)"/><rect x="842.8" y="1546.7" width="2" height="2" fill="rgb(60,60,60)"/><rect x="1023.0" y="1750.9" width="2" height="2" fill="rgb(24,24,24)"/><rect x="867.9" y="1811.1" width="2" height="2" fill="rgb(100,100,100)"/><rect x="799.9" y="1623.1" width="2" height="2" fill="rgb(27,27,27)"/><rect x="730.6" y="1896.2" width="2" height="2" fill="rgb(22,22,22)"/><rect x="1214.7" y="1560.7" width="2" height="2" fill="rgb(34,34,34)"/><rect x="709.5" y="1794.4" width="2" height="2" fill="rgb(33,33,33)"/><rect x="903.9" y="1823.4" width="2" height="2" fill="rgb(36,36,36)"/><rect x="725.0" y="1464.7" width="2" height="2" fill="rgb(28,28,28)"/><rect x="764.3" y="1500.1" width="2" height="2" fill="rgb(48,48,48)"/><rect x="1210.8" y="1553.5" width="2" height="2" fill="rgb(33,33,33)"/><rect x="1184.0" y="1502.7" width="2" height="2" fill="rgb(36,36,36)"/><rect x="758.3" y="1773.0" width="2" height="2" fill="rgb(47,47,47)"/><rect x="899.0" y="1527.1" width="2" height="2" fill="rgb(35,35,35)"/><rect x="1212.8" y="1415.9" width="2" height="2" fill="rgb(32,32,32)"/><rect x="977.9" y="1563.4" width="2" height="2" fill="rgb(26,26,26)"/><rect x="884.1" y="1868.5" width="2" height="2" fill="rgb(71,71,71)"/><rect x="869.2" y="1538.5" width="2" height="2" fill="rgb(70,70,70)"/><rect x="1039.7" y="1758.2" width="2" height="2" fill="rgb(31,31,31)"/><rect x="1240.4" y="1454.2" width="2" height="2" fill="rgb(23,23,23)"/><rect x="743.6" y="1692.7" width="2" height="2" fill="rgb(34,34,34)"/><rect x="717.0" y="1768.7" width="2" height="2" fill="rgb(33,33,33)"/><rect x="1148.0" y="1614.0" width="2" height="2" fill="rgb(35,35,35)"/><rect x="778.7" y="1898.3" width="2" height="2" fill="rgb(42,42,42)"/><rect x="717.5" y="1634.6" width="2" height="2" fill="rgb(48,48,48)"/><rect x="812.0" y="1899.5" width="2" height="2" fill="rgb(40,40,40)"/><rect x="1215.0" y="1708.9" width="2" height="2" fill="rgb(47,47,47)"/><rect x="924.2" y="1458.1" width="2" height="2" fill="rgb(33,33,33)"/><rect x="780.7" y="1825.3" width="2" height="2" fill="rgb(31,31,31)"/><rect x="776.3" y="1867.3" width="2" height="2" fill="rgb(41,41,41)"/><rect x="1162.0" y="1896.7" width="2" height="2" fill="rgb(36,36,36)"/><rect x="1220.6" y="1740.6" width="2" height="2" fill="rgb(32,32,32)"/><rect x="959.6" y="1524.5" width="2" height="2" fill="rgb(34,34,34)"/><rect x="1189.0" y="1427.6" width="2" height="2" fill="rgb(48,48,48)"/><rect x="1235.9" y="1887.9" width="2" height="2" fill="rgb(42,42,42)"/><rect x="1208.1" y="1837.9" width="2" height="2" fill="rgb(27,27,27)"/><rect x="748.1" y="1514.3" width="2" height="2" fill="rgb(47,47,47)"/><rect x="997.0" y="1639.6" width="2" height="2" fill="rgb(24,24,24)"/><rect x="1126.1" y="1787.4" width="2" height="2" fill="rgb(44,44,44)"/><rect x="1018.4" y="1385.0" width="2" height="2" fill="rgb(31,31,31)"/><rect x="896.9" y="1749.1" width="2" height="2" fill="rgb(30,30,30)"/><rect x="1152.8" y="1510.3" width="2" height="2" fill="rgb(44,44,44)"/><rect x="1088.1" y="1886.3" width="2" height="2" fill="rgb(82,82,82)"/><rect x="1014.7" y="1372.7" width="2" height="2" fill="rgb(39,39,39)"/><rect x="1119.4" y="1543.5" width="2" height="2" fill="rgb(30,30,30)"/><rect x="950.8" y="1810.1" width="2" height="2" fill="rgb(42,42,42)"/><rect x="1065.1" y="1560.1" width="2" height="2" fill="rgb(104,104,104)"/><rect x="1100.0" y="1816.4" width="2" height="2" fill="rgb(82,82,82)"/><rect x="1171.6" y="1740.4" width="2" height="2" fill="rgb(33,33,33)"/><rect x="1218.6" y="1647.9" width="2" height="2" fill="rgb(38,38,38)"/><rect x="1231.5" y="1474.3" width="2" height="2" fill="rgb(33,33,33)"/><rect x="1208.2" y="1625.7" width="2" height="2" fill="rgb(44,44,44)"/><rect x="742.5" y="1730.9" width="2" height="2" fill="rgb(35,35,35)"/><rect x="792.9" y="1790.4" width="2" height="2" fill="rgb(40,40,40)"/><rect x="979.9" y="1875.2" width="2" height="2" fill="rgb(31,31,31)"/><rect x="1038.1" y="1787.3" width="2" height="2" fill="rgb(42,42,42)"/><rect x="846.6" y="1907.5" width="2" height="2" fill="rgb(80,80,80)"/><rect x="1017.8" y="1705.5" width="2" height="2" fill="rgb(27,27,27)"/><rect x="818.5" y="1739.1" width="2" height="2" fill="rgb(42,42,42)"/><rect x="1089.5" y="1902.3" width="2" height="2" fill="rgb(81,81,81)"/><rect x="729.1" y="1438.9" width="2" height="2" fill="rgb(32,32,32)"/><rect x="1224.8" y="1628.6" width="2" height="2" fill="rgb(39,39,39)"/><rect x="719.0" y="1619.2" width="2" height="2" fill="rgb(34,34,34)"/><rect x="1059.1" y="1405.5" width="2" height="2" fill="rgb(90,90,90)"/><rect x="1089.2" y="1569.6" width="2" height="2" fill="rgb(111,111,111)"/><rect x="1216.2" y="1831.4" width="2" height="2" fill="rgb(25,25,25)"/><rect x="1073.4" y="1663.7" width="2" height="2" fill="rgb(130,130,130)"/><rect x="1032.6" y="1417.9" width="2" height="2" fill="rgb(39,39,39)"/><rect x="977.8" y="1883.1" width="2" height="2" fill="rgb(31,31,31)"/><rect x="1219.6" y="1811.1" width="2" height="2" fill="rgb(35,35,35)"/><rect x="921.7" y="1672.8" width="2" height="2" fill="rgb(39,39,39)"/><rect x="900.1" y="1443.6" width="2" height="2" fill="rgb(41,41,41)"/><rect x="907.3" y="1625.6" width="2" height="2" fill="rgb(28,28,28)"/><rect x="1224.8" y="1697.1" width="2" height="2" fill="rgb(33,33,33)"/><rect x="1145.2" y="1725.9" width="2" height="2" fill="rgb(34,34,34)"/><rect x="758.2" y="1673.8" width="2" height="2" fill="rgb(41,41,41)"/><rect x="992.3" y="1543.2" width="2" height="2" fill="rgb(40,40,40)"/><rect x="903.6" y="1600.9" width="2" height="2" fill="rgb(29,29,29)"/><rect x="967.4" y="1627.0" width="2" height="2" fill="rgb(44,44,44)"/><rect x="905.7" y="1888.6" width="2" height="2" fill="rgb(27,27,27)"/><rect x="1022.9" y="1507.6" width="2" height="2" fill="rgb(31,31,31)"/><rect x="968.9" y="1592.1" width="2" height="2" fill="rgb(32,32,32)"/><rect x="1212.5" y="1533.5" width="2" height="2" fill="rgb(31,31,31)"/><rect x="777.4" y="1379.3" width="2" height="2" fill="rgb(43,43,43)"/><rect x="1037.0" y="1607.3" width="2" height="2" fill="rgb(31,31,31)"/><rect x="721.4" y="1440.5" width="2" height="2" fill="rgb(34,34,34)"/><rect x="706.9" y="1655.7" width="2" height="2" fill="rgb(30,30,30)"/><rect x="831.8" y="1624.1" width="2" height="2" fill="rgb(91,91,91)"/><rect x="965.6" y="1824.9" width="2" height="2" fill="rgb(45,45,45)"/><rect x="1236.1" y="1525.7" width="2" height="2" fill="rgb(41,41,41)"/><rect x="1238.1" y="1647.9" width="2" height="2" fill="rgb(41,41,41)"/><rect x="1177.5" y="1852.7" width="2" height="2" fill="rgb(22,22,22)"/><rect x="1112.2" y="1529.8" width="2" height="2" fill="rgb(39,39,39)"/><rect x="1083.8" y="1699.8" width="2" height="2" fill="rgb(127,127,127)"/><rect x="714.1" y="1556.4" width="2" height="2" fill="rgb(43,43,43)"/><rect x="1103.9" y="1687.4" width="2" height="2" fill="rgb(60,60,60)"/><rect x="836.6" y="1613.9" width="2" height="2" fill="rgb(129,129,129)"/><rect x="803.4" y="1599.8" width="2" height="2" fill="rgb(47,47,47)"/><rect x="931.7" y="1679.1" width="2" height="2" fill="rgb(44,44,44)"/><rect x="1216.8" y="1718.9" width="2" height="2" fill="rgb(48,48,48)"/><rect x="908.8" y="1579.3" width="2" height="2" fill="rgb(45,45,45)"/><rect x="806.3" y="1527.5" width="2" height="2" fill="rgb(48,48,48)"/><rect x="1111.0" y="1531.4" width="2" height="2" fill="rgb(22,22,22)"/><rect x="1076.5" y="1601.6" width="2" height="2" fill="rgb(120,120,120)"/><rect x="1193.7" y="1443.9" width="2" height="2" fill="rgb(37,37,37)"/><rect x="1076.9" y="1849.2" width="2" height="2" fill="rgb(128,128,128)"/><rect x="783.0" y="1684.7" width="2" height="2" fill="rgb(47,47,47)"/><rect x="726.0" y="1764.4" width="2" height="2" fill="rgb(30,30,30)"/><rect x="1144.3" y="1796.6" width="2" height="2" fill="rgb(43,43,43)"/><rect x="1210.8" y="1547.3" width="2" height="2" fill="rgb(35,35,35)"/><rect x="1230.6" y="1908.8" width="2" height="2" fill="rgb(44,44,44)"/><rect x="963.7" y="1433.4" width="2" height="2" fill="rgb(25,25,25)"/><rect x="818.6" y="1717.2" width="2" height="2" fill="rgb(25,25,25)"/><rect x="1086.2" y="1439.5" width="2" height="2" fill="rgb(116,116,116)"/><rect x="780.9" y="1698.1" width="2" height="2" fill="rgb(35,35,35)"/><rect x="1134.8" y="1402.9" width="2" height="2" fill="rgb(28,28,28)"/><rect x="723.3" y="1425.2" width="2" height="2" fill="rgb(34,34,34)"/><rect x="1104.1" y="1518.5" width="2" height="2" fill="rgb(75,75,75)"/><rect x="1102.4" y="1843.7" width="2" height="2" fill="rgb(61,61,61)"/><rect x="933.9" y="1537.3" width="2" height="2" fill="rgb(41,41,41)"/><rect x="965.2" y="1558.4" width="2" height="2" fill="rgb(42,42,42)"/><rect x="902.7" y="1396.7" width="2" height="2" fill="rgb(44,44,44)"/><rect x="859.6" y="1675.3" width="2" height="2" fill="rgb(124,124,124)"/><rect x="857.2" y="1878.2" width="2" height="2" fill="rgb(88,88,88)"/><rect x="842.5" y="1666.1" width="2" height="2" fill="rgb(96,96,96)"/><rect x="980.2" y="1439.1" width="2" height="2" fill="rgb(29,29,29)"/><rect x="1168.2" y="1612.7" width="2" height="2" fill="rgb(34,34,34)"/><rect x="797.0" y="1753.9" width="2" height="2" fill="rgb(42,42,42)"/><rect x="885.0" y="1677.8" width="2" height="2" fill="rgb(71,71,71)"/><rect x="1168.1" y="1641.6" width="2" height="2" fill="rgb(36,36,36)"/><rect x="829.1" y="1842.8" width="2" height="2" fill="rgb(101,101,101)"/><rect x="758.1" y="1654.7" width="2" height="2" fill="rgb(39,39,39)"/><rect x="1093.0" y="1395.6" width="2" height="2" fill="rgb(114,114,114)"/><rect x="1069.2" y="1487.6" width="2" height="2" fill="rgb(70,70,70)"/><rect x="1227.4" y="1727.7" width="2" height="2" fill="rgb(48,48,48)"/><rect x="814.4" y="1747.5" width="2" height="2" fill="rgb(34,34,34)"/><rect x="891.9" y="1494.1" width="2" height="2" fill="rgb(32,32,32)"/><rect x="1204.5" y="1749.6" width="2" height="2" fill="rgb(47,47,47)"/><rect x="909.0" y="1440.5" width="2" height="2" fill="rgb(48,48,48)"/><rect x="894.1" y="1527.2" width="2" height="2" fill="rgb(42,42,42)"/><rect x="934.8" y="1829.1" width="2" height="2" fill="rgb(38,38,38)"/><rect x="719.4" y="1905.9" width="2" height="2" fill="rgb(28,28,28)"/><rect x="1101.2" y="1581.3" width="2" height="2" fill="rgb(64,64,64)"/><rect x="717.7" y="1476.4" width="2" height="2" fill="rgb(23,23,23)"/><rect x="965.5" y="1875.5" width="2" height="2" fill="rgb(43,43,43)"/><rect x="1112.2" y="1366.6" width="2" height="2" fill="rgb(37,37,37)"/><rect x="862.7" y="1874.2" width="2" height="2" fill="rgb(101,101,101)"/><rect x="952.3" y="1420.6" width="2" height="2" fill="rgb(26,26,26)"/><rect x="1054.1" y="1405.1" width="2" height="2" fill="rgb(120,120,120)"/><rect x="782.2" y="1504.4" width="2" height="2" fill="rgb(30,30,30)"/><rect x="1143.7" y="1774.1" width="2" height="2" fill="rgb(43,43,43)"/><rect x="827.3" y="1628.3" width="2" height="2" fill="rgb(23,23,23)"/><rect x="886.5" y="1775.0" width="2" height="2" fill="rgb(67,67,67)"/><rect x="1072.8" y="1732.5" width="2" height="2" fill="rgb(79,79,79)"/><rect x="763.7" y="1729.6" width="2" height="2" fill="rgb(31,31,31)"/><rect x="945.9" y="1496.8" width="2" height="2" fill="rgb(27,27,27)"/><rect x="717.9" y="1754.8" width="2" height="2" fill="rgb(40,40,40)"/><rect x="824.7" y="1408.9" width="2" height="2" fill="rgb(34,34,34)"/><rect x="1194.3" y="1750.4" width="2" height="2" fill="rgb(43,43,43)"/><rect x="868.9" y="1620.7" width="2" height="2" fill="rgb(68,68,68)"/><rect x="1097.0" y="1756.5" width="2" height="2" fill="rgb(90,90,90)"/><rect x="795.0" y="1479.8" width="2" height="2" fill="rgb(23,23,23)"/><rect x="1050.1" y="1600.4" width="2" height="2" fill="rgb(60,60,60)"/><rect x="950.3" y="1612.5" width="2" height="2" fill="rgb(43,43,43)"/><rect x="922.2" y="1390.8" width="2" height="2" fill="rgb(39,39,39)"/><rect x="1153.0" y="1821.3" width="2" height="2" fill="rgb(40,40,40)"/><rect x="889.6" y="1417.4" width="2" height="2" fill="rgb(24,24,24)"/><rect x="828.3" y="1802.8" width="2" height="2" fill="rgb(24,24,24)"/><rect x="1207.3" y="1395.6" width="2" height="2" fill="rgb(29,29,29)"/><rect x="1049.2" y="1636.6" width="2" height="2" fill="rgb(67,67,67)"/><rect x="725.7" y="1819.2" width="2" height="2" fill="rgb(36,36,36)"/><rect x="865.7" y="1394.3" width="2" height="2" fill="rgb(84,84,84)"/><rect x="797.0" y="1642.7" width="2" height="2" fill="rgb(34,34,34)"/><rect x="801.7" y="1493.4" width="2" height="2" fill="rgb(32,32,32)"/><rect x="1128.7" y="1413.6" width="2" height="2" fill="rgb(27,27,27)"/><rect x="1024.3" y="1831.9" width="2" height="2" fill="rgb(28,28,28)"/><rect x="1038.7" y="1606.1" width="2" height="2" fill="rgb(33,33,33)"/><rect x="963.6" y="1676.9" width="2" height="2" fill="rgb(34,34,34)"/><rect x="983.1" y="1438.5" width="2" height="2" fill="rgb(22,22,22)"/><rect x="1195.0" y="1533.5" width="2" height="2" fill="rgb(36,36,36)"/><rect x="1183.3" y="1909.5" width="2" height="2" fill="rgb(39,39,39)"/><rect x="762.5" y="1535.8" width="2" height="2" fill="rgb(24,24,24)"/><rect x="1122.8" y="1509.5" width="2" height="2" fill="rgb(34,34,34)"/><rect x="869.4" y="1436.9" width="2" height="2" fill="rgb(120,120,120)"/></g></g>
<text x="0" y="0" font-size="30.6" text-anchor="middle" transform="translate(684.2 1413.9) rotate(-90)">HMW</text>
<text x="0" y="0" font-size="30.6" text-anchor="middle" transform="translate(684.2 1627.0) rotate(-90)">MMW</text>
<text x="0" y="0" font-size="30.6" text-anchor="middle" transform="translate(684.2 1865.0) rotate(-90)">LMW</text>
<text x="615.4" y="1974.3" font-size="31.30">Strain</text>
<text x="728.3" y="1972.6" font-size="26.30">WT</text>
<text x="837.0" y="1972.6" font-size="26.30">TC</text>
<text x="952.1" y="1972.6" font-size="26.30">TC</text>
<text x="926.6" y="2002.0" font-size="26.30"><tspan>Δ</tspan><tspan font-style="italic">mcr-1</tspan></text>
<text x="1063.4" y="1972.6" font-size="26.30">TC</text>
<text x="1037.8" y="2002.0" font-size="26.30"><tspan>Δ</tspan><tspan font-style="italic">mcr-1</tspan></text>
<text x="1168.4" y="1972.6" font-size="26.30">WT</text>
<text x="598.0" y="2041.1" font-size="31.30"><tspan>p</tspan><tspan font-style="italic">mcr-1</tspan></text>
<line x1="744.9" y1="2032.8" x2="762.1" y2="2032.8" stroke="#000" stroke-width="2.5"/>
<line x1="843.4" y1="2032.8" x2="860.6" y2="2032.8" stroke="#000" stroke-width="2.5"/>
<line x1="958.1" y1="2032.8" x2="975.3" y2="2032.8" stroke="#000" stroke-width="2.5"/>
<path d="M1069.0 2032 H1088.0 M1078.5 2022.5 V2041.5" stroke="#000" stroke-width="2.8" fill="none"/>
<path d="M1178.7 2032 H1197.7 M1188.2 2022.5 V2041.5" stroke="#000" stroke-width="2.8" fill="none"/>
<text x="1320.4" y="1311.1" font-size="58.00"><tspan font-weight="bold">f</tspan></text>
<rect x="1451.1" y="1865.0" width="67.4" height="52.8" fill="#000000"/>
<rect x="1552.6" y="1485.1" width="67.4" height="432.7" fill="#808080"/>
<rect x="1654.1" y="1851.0" width="67.4" height="66.8" fill="#173B7A"/>
<rect x="1756.3" y="1706.3" width="67.4" height="211.5" fill="#679FD7"/>
<rect x="1858.2" y="1868.1" width="67.4" height="49.7" fill="#FF8080"/>
<path d="M1484.8 1859.5 V1864.0 M1467.8 1859.5 H1501.8 M1467.8 1864.0 H1501.8" stroke="#000" stroke-width="3" fill="none" stroke-linecap="round"/>
<circle cx="1461.4" cy="1861.2" r="10.1" fill="#fff" stroke="#000" stroke-width="3.4"/><circle cx="1476.9" cy="1861.2" r="10.1" fill="#fff" stroke="#000" stroke-width="3.4"/><circle cx="1492.3" cy="1861.2" r="10.1" fill="#fff" stroke="#000" stroke-width="3.4"/><circle cx="1508.6" cy="1861.2" r="10.1" fill="#fff" stroke="#000" stroke-width="3.4"/>
<path d="M1586.4 1439.5 V1531.6 M1568.8 1439.5 H1604.0 M1568.8 1531.6 H1604.0" stroke="#000" stroke-width="3" fill="none" stroke-linecap="round"/>
<circle cx="1562.8" cy="1449.2" r="10.1" fill="#fff" stroke="#000" stroke-width="3.4"/><circle cx="1610.3" cy="1449.2" r="10.1" fill="#fff" stroke="#000" stroke-width="3.4"/><circle cx="1586.2" cy="1496.7" r="10.1" fill="#fff" stroke="#000" stroke-width="3.4"/><circle cx="1586.2" cy="1544.7" r="10.1" fill="#fff" stroke="#000" stroke-width="3.4"/>
<circle cx="1664.7" cy="1850.9" r="10.1" fill="#fff" stroke="#000" stroke-width="3.4"/><circle cx="1680.1" cy="1841.4" r="10.1" fill="#fff" stroke="#000" stroke-width="3.4"/><circle cx="1695.5" cy="1851.7" r="10.1" fill="#fff" stroke="#000" stroke-width="3.4"/><circle cx="1712.7" cy="1844.0" r="10.1" fill="#fff" stroke="#000" stroke-width="3.4"/>
<path d="M1688.2 1843.2 V1852.2 M1670.7 1843.2 H1705.7 M1670.7 1852.2 H1705.7" stroke="#000" stroke-width="3" fill="none" stroke-linecap="round"/>
<circle cx="1766.5" cy="1684.0" r="10.1" fill="#fff" stroke="#000" stroke-width="3.4"/><circle cx="1789.9" cy="1691.4" r="10.1" fill="#fff" stroke="#000" stroke-width="3.4"/><circle cx="1813.9" cy="1689.3" r="10.1" fill="#fff" stroke="#000" stroke-width="3.4"/><circle cx="1789.9" cy="1761.7" r="10.1" fill="#fff" stroke="#000" stroke-width="3.4"/>
<path d="M1789.9 1669.4 V1743.6 M1772.4 1669.4 H1807.4 M1772.4 1743.6 H1807.4" stroke="#000" stroke-width="3" fill="none" stroke-linecap="round"/>
<circle cx="1868.4" cy="1876.7" r="10.1" fill="#fff" stroke="#000" stroke-width="3.4"/><circle cx="1891.4" cy="1868.4" r="10.1" fill="#fff" stroke="#000" stroke-width="3.4"/><circle cx="1916.3" cy="1871.4" r="10.1" fill="#fff" stroke="#000" stroke-width="3.4"/>
<path d="M1891.7 1859.3 V1877.3 M1874.2 1859.3 H1909.2 M1874.2 1877.3 H1909.2" stroke="#000" stroke-width="3" fill="none" stroke-linecap="round"/>
<circle cx="1868.4" cy="1856.0" r="10.1" fill="#fff" stroke="#000" stroke-width="3.4"/>
<path d="M1417.1 1354.5 V1918.8" stroke="#000" stroke-width="2.4"/>
<path d="M1416.1 1354.5 H1960.4 V1918.8" stroke="#000" stroke-width="2.4" fill="none"/>
<path d="M1399.4 1917.8 H1961.4" stroke="#000" stroke-width="2.4"/>
<path d="M1399.4 1805.1 H1417.1" stroke="#000" stroke-width="2.4"/>
<path d="M1399.4 1692.5 H1417.1" stroke="#000" stroke-width="2.4"/>
<path d="M1399.4 1579.8 H1417.1" stroke="#000" stroke-width="2.4"/>
<path d="M1399.4 1467.2 H1417.1" stroke="#000" stroke-width="2.4"/>
<path d="M1399.4 1354.5 H1417.1" stroke="#000" stroke-width="2.4"/>
<path d="M1484.8 1917.8 V1935" stroke="#000" stroke-width="2.4"/>
<path d="M1586.3 1917.8 V1935" stroke="#000" stroke-width="2.4"/>
<path d="M1687.8 1917.8 V1935" stroke="#000" stroke-width="2.4"/>
<path d="M1790.0 1917.8 V1935" stroke="#000" stroke-width="2.4"/>
<path d="M1891.9 1917.8 V1935" stroke="#000" stroke-width="2.4"/>
<text x="1376.3" y="1930.1" font-size="33.00">0</text>
<text x="1376.3" y="1817.4" font-size="33.00">2</text>
<text x="1376.3" y="1704.8" font-size="33.00">4</text>
<text x="1376.3" y="1592.1" font-size="33.00">6</text>
<text x="1376.3" y="1479.5" font-size="33.00">8</text>
<text x="1358.0" y="1366.8" font-size="33.00">10</text>
<text x="0" y="0" font-size="30.5" text-anchor="middle" transform="translate(1349.2 1638.7) rotate(-90)">WGA staining</text>
<path d="M1478.3 1384.1 H1893.6" stroke="#000" stroke-width="3"/>
<text x="1675.2" y="1377.1" font-size="27.00">ns</text>
<path d="M1479.5 1422.8 H1581.2" stroke="#000" stroke-width="3"/>
<text x="1503.3" y="1424.3" font-size="36.00">****</text>
<path d="M1591.1 1422.8 H1692.5" stroke="#000" stroke-width="3"/>
<text x="1614.8" y="1424.3" font-size="36.00">****</text>
<path d="M1701.1 1422.8 H1802.9" stroke="#000" stroke-width="3"/>
<text x="1725.0" y="1424.3" font-size="36.00">****</text>
<text x="1351.4" y="1973.8" font-size="31.30">Strain</text>
<text x="1464.6" y="1972.6" font-size="26.30">WT</text>
<text x="1569.7" y="1972.6" font-size="26.30">TC</text>
<text x="1672.2" y="1972.6" font-size="26.30">TC</text>
<text x="1773.5" y="1972.6" font-size="26.30">TC</text>
<text x="1872.6" y="1972.6" font-size="26.30">WT</text>
<text x="1646.8" y="2002.0" font-size="26.30"><tspan>Δ</tspan><tspan font-style="italic">mcr-1</tspan></text>
<text x="1748.3" y="2002.0" font-size="26.30"><tspan>Δ</tspan><tspan font-style="italic">mcr-1</tspan></text>
<text x="1336.3" y="2040.6" font-size="31.30"><tspan>p</tspan><tspan font-style="italic">mcr-1</tspan></text>
<line x1="1480.3" y1="2032.5" x2="1498.3" y2="2032.5" stroke="#000" stroke-width="2.6"/>
<line x1="1576.2" y1="2032.5" x2="1594.2" y2="2032.5" stroke="#000" stroke-width="2.6"/>
<line x1="1678.7" y1="2032.5" x2="1696.7" y2="2032.5" stroke="#000" stroke-width="2.6"/>
<path d="M1780.8 2032.5 H1799.8 M1790.3 2023 V2042" stroke="#000" stroke-width="2.8" fill="none"/>
<path d="M1884.1 2032.5 H1903.1 M1893.6 2023 V2042" stroke="#000" stroke-width="2.8" fill="none"/>
<text x="-0.2" y="2137.5" font-size="58.00"><tspan font-weight="bold">g</tspan></text>
<text x="239.6" y="2156.8" font-size="31.00">WT</text>
<text x="612.7" y="2156.8" font-size="31.00">TC</text>
<text x="935.2" y="2156.8" font-size="31.00"><tspan>TCΔ</tspan><tspan font-style="italic">mcr-1</tspan></text>
<text x="1252.1" y="2156.8" font-size="31.00"><tspan>TCΔ</tspan><tspan font-style="italic">mcr-1</tspan><tspan>+p</tspan><tspan font-style="italic">mcr-1</tspan></text>
<text x="1670.7" y="2157.2" font-size="31.00"><tspan>WT+p</tspan><tspan font-style="italic">mcr-1</tspan></text>
<defs><filter id="noise" x="0" y="0" width="100%" height="100%"><feTurbulence type="fractalNoise" baseFrequency="0.9" numOctaves="2" seed="3" result="n"/><feColorMatrix in="n" type="matrix" values="0 0 0 0 0  0 0 0 0 0  0 0 0 0 0  0.33 0.33 0.33 0 -0.35" /></filter><filter id="b3" x="-30%" y="-30%" width="160%" height="160%"><feGaussianBlur stdDeviation="3"/></filter><filter id="b2" x="-30%" y="-30%" width="160%" height="160%"><feGaussianBlur stdDeviation="1.6"/></filter><filter id="b4" x="-30%" y="-30%" width="160%" height="160%"><feGaussianBlur stdDeviation="4"/></filter><filter id="b5" x="-30%" y="-30%" width="160%" height="160%"><feGaussianBlur stdDeviation="5"/></filter><filter id="b8" x="-30%" y="-30%" width="160%" height="160%"><feGaussianBlur stdDeviation="8"/></filter><filter id="b14" x="-50%" y="-50%" width="200%" height="200%"><feGaussianBlur stdDeviation="14"/></filter><filter id="b28" x="-60%" y="-60%" width="220%" height="220%"><feGaussianBlur stdDeviation="28"/></filter><filter id="b24" x="-50%" y="-50%" width="200%" height="200%"><feGaussianBlur stdDeviation="24"/></filter><filter id="b6" x="-30%" y="-30%" width="160%" height="160%"><feGaussianBlur stdDeviation="6"/></filter><filter id="b12" x="-40%" y="-40%" width="180%" height="180%"><feGaussianBlur stdDeviation="12"/></filter><filter id="b20" x="-50%" y="-50%" width="200%" height="200%"><feGaussianBlur stdDeviation="20"/></filter><filter id="wrinkle" x="0" y="0" width="100%" height="100%"><feTurbulence type="turbulence" baseFrequency="0.035 0.07" numOctaves="3" seed="7" result="t"/><feColorMatrix in="t" type="matrix" values="0 0 0 0 0  0 0 0 0 0  0 0 0 0 0  -0.6 -0.6 -0.6 0 0.55" result="w"/><feComposite in="w" in2="SourceAlpha" operator="in"/></filter></defs>
<clipPath id="pc0"><rect x="74.7" y="2167.8" width="372.9" height="369.0"/></clipPath>
<clipPath id="pc1"><rect x="447.6" y="2167.8" width="375.0" height="369.0"/></clipPath>
<clipPath id="pc2"><rect x="822.6" y="2167.8" width="369.8" height="369.0"/></clipPath>
<clipPath id="pc3"><rect x="1192.4" y="2167.8" width="374.0" height="369.0"/></clipPath>
<clipPath id="pc4"><rect x="1566.4" y="2167.8" width="371.6" height="369.0"/></clipPath>
<g clip-path="url(#pc0)"><rect x="74.7" y="2167.8" width="372.9" height="369.0" fill="#E2E2E2"/><rect x="74.7" y="2167.8" width="372.9" height="369.0" filter="url(#noise)" opacity="0.5"/><path d="M126.6 2308.1 C127.9 2299.6 130.0 2289.2 135.4 2280.7 C140.7 2272.3 150.0 2263.0 158.8 2257.3 C167.6 2251.6 176.7 2247.9 188.1 2246.6 C199.4 2245.3 210.8 2246.1 227.1 2249.5 C243.4 2252.9 266.1 2259.9 285.6 2267.1 C305.2 2274.2 326.3 2282.4 344.2 2292.5 C362.1 2302.5 380.6 2315.9 393.0 2327.6 C405.3 2339.3 413.1 2352.3 418.4 2362.7 C423.6 2373.1 424.9 2380.9 424.2 2390.0 C423.6 2399.1 420.6 2409.2 414.4 2417.4 C408.3 2425.5 398.8 2433.3 387.1 2438.8 C375.4 2444.4 359.5 2449.2 344.2 2450.5 C328.9 2451.8 310.0 2449.9 295.4 2446.6 C280.8 2443.4 271.0 2437.8 256.4 2431.0 C241.7 2424.2 222.2 2413.5 207.6 2405.6 C192.9 2397.8 179.9 2392.6 168.5 2384.2 C157.2 2375.7 146.1 2363.7 139.3 2354.9 C132.4 2346.1 129.7 2339.3 127.6 2331.5 C125.5 2323.7 125.3 2316.5 126.6 2308.1 Z" fill="#6a6a6a" stroke="#4a4a4a" stroke-width="4" filter="url(#b2)"/><path d="M131.5 2312.0 C133.7 2305.8 140.6 2296.7 149.0 2288.5 C157.5 2280.4 174.1 2266.4 182.2 2263.2 C190.3 2259.9 192.0 2263.8 197.8 2269.0 C203.7 2274.2 202.7 2287.2 217.3 2294.4 C232.0 2301.6 264.5 2304.5 285.6 2312.0 C306.8 2319.4 326.3 2329.5 344.2 2339.3 C362.1 2349.0 382.2 2361.7 393.0 2370.5 C403.7 2379.3 407.0 2386.1 408.6 2392.0 C410.2 2397.8 408.6 2402.1 402.7 2405.6 C396.9 2409.2 382.6 2409.5 373.5 2413.5 C364.4 2417.4 356.2 2427.4 348.1 2429.1 C340.0 2430.7 335.1 2427.8 324.7 2423.2 C314.3 2418.7 301.9 2408.9 285.6 2401.7 C269.4 2394.6 243.4 2386.1 227.1 2380.3 C210.8 2374.4 199.4 2373.1 188.1 2366.6 C176.7 2360.1 167.6 2348.1 158.8 2341.2 C150.0 2334.4 139.9 2330.5 135.4 2325.6 C130.8 2320.7 129.2 2318.1 131.5 2312.0 Z" fill="#222" filter="url(#b4)"/><path d="M135.4 2313.9 C134.4 2305.8 145.1 2298.3 152.9 2290.5 C160.7 2282.7 173.1 2266.4 182.2 2267.1 C191.3 2267.7 190.3 2286.3 207.6 2294.4 C224.8 2302.5 264.5 2308.4 285.6 2315.9 C306.8 2323.4 321.4 2330.8 334.4 2339.3 C347.4 2347.7 354.9 2358.8 363.7 2366.6 C372.5 2374.4 382.2 2380.6 387.1 2386.1 C392.0 2391.7 396.9 2395.9 393.0 2399.8 C389.1 2403.7 371.8 2406.0 363.7 2409.5 C355.6 2413.1 350.7 2420.0 344.2 2421.3 C337.7 2422.6 334.4 2421.3 324.7 2417.4 C314.9 2413.5 301.9 2404.3 285.6 2397.8 C269.4 2391.3 243.4 2383.9 227.1 2378.3 C210.8 2372.8 199.4 2371.2 188.1 2364.7 C176.7 2358.2 167.6 2347.7 158.8 2339.3 C150.0 2330.8 136.3 2322.1 135.4 2313.9 Z" fill="#060606" filter="url(#b6)"/><path d="M241 2425 Q236 2445 212 2459" stroke="#b4b4b4" stroke-width="4" fill="none" stroke-linecap="round"/><path d="M128 2342 Q120 2350 124 2356" stroke="#b4b4b4" stroke-width="3" fill="none"/></g>
<g clip-path="url(#pc1)"><rect x="447.6" y="2167.8" width="375.0" height="369.0" fill="#E0E0E0"/><rect x="447.6" y="2167.8" width="375.0" height="369.0" filter="url(#noise)" opacity="0.5"/><ellipse cx="646" cy="2351" rx="128" ry="163" fill="#000" filter="url(#b14)"/><ellipse cx="647" cy="2351" rx="107" ry="142" fill="#080808" filter="url(#b4)"/><path d="M641 2219 C702 2219 734 2290 734 2360 C734 2432 700 2485 641 2485 C584 2485 550 2432 550 2360 C550 2290 582 2219 641 2219 Z" fill="#4a4a4a" filter="url(#b2)"/><path d="M641 2219 C702 2219 734 2290 734 2360 C734 2432 700 2485 641 2485 C584 2485 550 2432 550 2360 C550 2290 582 2219 641 2219 Z" fill="#000" filter="url(#wrinkle)" opacity="0.55"/></g>
<g clip-path="url(#pc2)"><rect x="822.6" y="2167.8" width="369.8" height="369.0" fill="#D8D8D8"/><rect x="822.6" y="2167.8" width="369.8" height="369.0" filter="url(#noise)" opacity="0.5"/><path d="M891.5 2339.2 C893.7 2326.7 897.6 2316.0 903.1 2309.4 C908.6 2302.7 917.7 2304.9 924.6 2299.4 C931.5 2293.9 934.3 2285.1 944.5 2276.2 C954.7 2267.4 972.1 2254.4 985.9 2246.4 C999.7 2238.4 1014.9 2231.0 1027.3 2228.2 C1039.7 2225.5 1049.4 2226.6 1060.4 2229.9 C1071.5 2233.2 1084.4 2240.9 1093.5 2248.1 C1102.7 2255.3 1109.8 2262.7 1115.1 2272.9 C1120.3 2283.1 1124.5 2296.4 1125.0 2309.4 C1125.6 2322.3 1122.2 2338.3 1118.4 2350.8 C1114.5 2363.2 1108.7 2372.8 1101.8 2383.9 C1094.9 2394.9 1086.6 2406.8 1077.0 2417.0 C1067.3 2427.2 1055.7 2436.6 1043.9 2445.1 C1032.0 2453.7 1014.1 2462.0 1005.8 2468.3 C997.5 2474.7 1001.6 2479.4 994.2 2483.2 C986.7 2487.1 972.7 2491.5 961.1 2491.5 C949.5 2491.5 933.8 2488.7 924.6 2483.2 C915.5 2477.7 911.1 2468.0 906.4 2458.4 C901.7 2448.7 899.3 2437.7 896.5 2425.3 C893.7 2412.8 890.7 2398.2 889.9 2383.9 C889.0 2369.5 889.3 2351.6 891.5 2339.2 Z" fill="#585858" stroke="#3a3a3a" stroke-width="4" filter="url(#b2)"/><path d="M924.6 2345.8 C932.4 2334.7 948.4 2319.3 962.7 2309.4 C977.1 2299.4 1000.5 2295.8 1010.8 2286.2 C1021.0 2276.5 1015.7 2256.4 1024.0 2251.4 C1032.3 2246.4 1048.8 2248.9 1060.4 2256.4 C1072.0 2263.8 1087.8 2279.0 1093.5 2296.1 C1099.3 2313.2 1099.3 2342.5 1095.2 2359.0 C1091.1 2375.6 1078.6 2386.4 1068.7 2395.5 C1058.8 2404.6 1049.4 2408.2 1035.6 2413.7 C1021.8 2419.2 1000.8 2423.9 985.9 2428.6 C971.0 2433.3 956.4 2443.8 946.2 2441.8 C936.0 2439.9 929.6 2428.0 924.6 2417.0 C919.7 2405.9 916.4 2387.5 916.4 2375.6 C916.4 2363.7 916.9 2356.8 924.6 2345.8 Z" fill="#2c2c2c" filter="url(#b8)"/><path d="M949.5 2306.0 L985.9 2352.4 L1048.8 2395.5" stroke="#222" stroke-width="4" fill="none" filter="url(#b2)"/><path d="M906.4 2450.1 C910.3 2447.3 925.7 2455.3 936.2 2458.4 C946.7 2461.4 958.3 2466.1 969.4 2468.3 C980.4 2470.5 997.2 2469.1 1002.5 2471.6 C1007.7 2474.1 1006.3 2479.9 1000.8 2483.2 C995.3 2486.5 980.7 2490.7 969.4 2491.5 C958.0 2492.3 942.3 2491.0 932.9 2488.2 C923.5 2485.4 917.5 2481.3 913.1 2474.9 C908.6 2468.6 902.6 2452.9 906.4 2450.1 Z" fill="#161616" filter="url(#b4)"/></g>
<g clip-path="url(#pc3)"><rect x="1192.4" y="2167.8" width="374.0" height="369.0" fill="#DCDCDC"/><rect x="1192.4" y="2167.8" width="374.0" height="369.0" filter="url(#noise)" opacity="0.5"/><ellipse cx="1370" cy="2361" rx="142" ry="160" fill="#000" filter="url(#b28)"/><ellipse cx="1370" cy="2361" rx="113" ry="130" fill="#070707" filter="url(#b5)"/><path d="M1300 2250 C1340 2232 1400 2234 1440 2262 C1470 2290 1468 2340 1466 2400 C1464 2450 1445 2484 1395 2484 C1340 2486 1290 2470 1276 2420 C1262 2370 1262 2300 1300 2250 Z" fill="#5a5a5a" filter="url(#b3)"/><path d="M1300 2250 C1340 2232 1400 2234 1440 2262 C1470 2290 1468 2340 1466 2400 C1464 2450 1445 2484 1395 2484 C1340 2486 1290 2470 1276 2420 C1262 2370 1262 2300 1300 2250 Z" fill="#000" filter="url(#wrinkle)" opacity="0.35"/><path d="M1293 2368 Q1330 2350 1360 2350 Q1390 2340 1420 2305" stroke="#303030" stroke-width="3" fill="none" filter="url(#b2)"/></g>
<g clip-path="url(#pc4)"><rect x="1566.4" y="2167.8" width="371.6" height="369.0" fill="#E2E2E2"/><rect x="1566.4" y="2167.8" width="371.6" height="369.0" filter="url(#noise)" opacity="0.5"/><path d="M1757.1 2233.5 C1766.5 2228.8 1779.2 2226.0 1789.3 2224.1 C1799.3 2222.2 1808.2 2220.6 1817.6 2222.2 C1827.1 2223.7 1837.2 2228.5 1846.0 2233.5 C1854.9 2238.6 1864.0 2244.6 1870.6 2252.5 C1877.3 2260.3 1882.9 2273.0 1885.8 2280.8 C1888.6 2288.7 1889.6 2289.7 1887.7 2299.8 C1885.8 2309.9 1880.4 2326.6 1874.4 2341.4 C1868.4 2356.2 1859.6 2374.5 1851.7 2388.7 C1843.8 2402.9 1837.5 2413.9 1827.1 2426.6 C1816.7 2439.2 1801.9 2454.6 1789.3 2464.4 C1776.6 2474.2 1764.0 2482.7 1751.4 2485.2 C1738.8 2487.8 1729.3 2484.0 1713.6 2479.6 C1697.8 2475.1 1669.7 2467.3 1656.8 2458.7 C1643.8 2450.2 1639.4 2437.6 1636.0 2428.5 C1632.5 2419.3 1632.5 2416.8 1636.0 2403.9 C1639.4 2390.9 1647.0 2369.2 1656.8 2350.9 C1666.6 2332.6 1682.0 2310.5 1694.6 2294.1 C1707.2 2277.7 1722.1 2262.5 1732.5 2252.5 C1742.9 2242.4 1747.6 2238.3 1757.1 2233.5 Z" fill="#555" stroke="#333" stroke-width="6" filter="url(#b2)"/><path d="M1817.6 2326.3 C1829.6 2318.7 1851.4 2311.8 1861.2 2311.1 C1870.9 2310.5 1876.3 2312.7 1876.3 2322.5 C1876.3 2332.3 1867.8 2355.6 1861.2 2369.8 C1854.5 2384.0 1847.0 2394.7 1836.6 2407.6 C1826.2 2420.6 1811.3 2437.3 1798.7 2447.4 C1786.1 2457.5 1771.9 2466.9 1760.9 2468.2 C1749.8 2469.5 1738.5 2461.9 1732.5 2455.0 C1726.5 2448.0 1721.8 2436.7 1724.9 2426.6 C1728.1 2416.5 1740.7 2406.1 1751.4 2394.4 C1762.1 2382.7 1778.2 2367.9 1789.3 2356.5 C1800.3 2345.2 1805.7 2333.8 1817.6 2326.3 Z" fill="#7a7a7a" filter="url(#b5)"/><path d="M1770.3 2244.9 C1778.2 2238.9 1811.0 2240.5 1823.3 2244.9 C1835.6 2249.3 1836.6 2261.6 1844.1 2271.4 C1851.7 2281.2 1873.2 2296.6 1868.7 2303.6 C1864.3 2310.5 1829.3 2308.0 1817.6 2313.0 C1806.0 2318.1 1805.0 2325.9 1798.7 2333.8 C1792.4 2341.7 1788.3 2350.2 1779.8 2360.3 C1771.3 2370.4 1757.1 2383.7 1747.6 2394.4 C1738.2 2405.1 1725.5 2414.6 1723.0 2424.7 C1720.5 2434.8 1728.1 2447.7 1732.5 2455.0 C1736.9 2462.2 1753.9 2470.7 1749.5 2468.2 C1745.1 2465.7 1721.4 2447.4 1706.0 2439.8 C1690.5 2432.2 1659.3 2427.8 1656.8 2422.8 C1654.3 2417.7 1679.8 2415.2 1690.8 2409.5 C1701.9 2403.9 1712.9 2397.5 1723.0 2388.7 C1733.1 2379.9 1743.5 2367.6 1751.4 2356.5 C1759.3 2345.5 1766.2 2335.1 1770.3 2322.5 C1774.4 2309.9 1776.0 2293.8 1776.0 2280.8 C1776.0 2267.9 1762.4 2250.9 1770.3 2244.9 Z" fill="#1c1c1c" filter="url(#b5)"/></g>
<rect x="74.7" y="2167.8" width="372.9" height="369.0" fill="none" stroke="#000" stroke-width="2.6"/>
<rect x="447.6" y="2167.8" width="375.0" height="369.0" fill="none" stroke="#000" stroke-width="2.6"/>
<rect x="822.6" y="2167.8" width="369.8" height="369.0" fill="none" stroke="#000" stroke-width="2.6"/>
<rect x="1192.4" y="2167.8" width="374.0" height="369.0" fill="none" stroke="#000" stroke-width="2.6"/>
<rect x="1566.4" y="2167.8" width="371.6" height="369.0" fill="none" stroke="#000" stroke-width="2.6"/>
<line x1="347.7" y1="2500.0" x2="435.7" y2="2500.0" stroke="#000" stroke-width="2.6"/>
<text x="359.5" y="2525.6" font-size="20.50">500 nm</text>
<line x1="714.2" y1="2498.9" x2="812.0" y2="2498.9" stroke="#000" stroke-width="2.6"/>
<text x="730.8" y="2523.0" font-size="20.50">500 nm</text>
<line x1="1097.0" y1="2500.0" x2="1177.4" y2="2500.0" stroke="#000" stroke-width="2.6"/>
<text x="1104.0" y="2525.0" font-size="20.50">500 nm</text>
<line x1="1443.3" y1="2498.0" x2="1551.0" y2="2498.0" stroke="#000" stroke-width="2.6"/>
<text x="1468.5" y="2522.0" font-size="20.50">500 nm</text>
<line x1="1844.3" y1="2499.9" x2="1923.5" y2="2499.9" stroke="#000" stroke-width="2.6"/>
<text x="1850.9" y="2525.0" font-size="20.50">500 nm</text>
</svg></body></html>
